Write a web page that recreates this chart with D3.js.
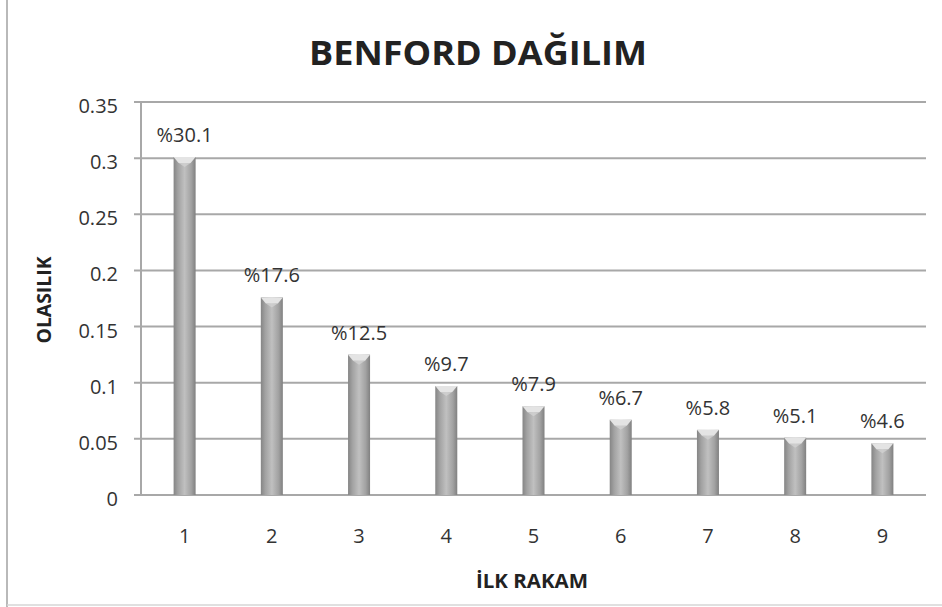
<!DOCTYPE html>
<html>
<head>
<meta charset="utf-8">
<script src="https://cdn.jsdelivr.net/npm/d3@7"></script>
<style>
html,body{margin:0;padding:0;background:#fff;}
svg{display:block;font-family:"Open Sans","Lato",sans-serif;}
</style>
</head>
<body>
<svg id="c" width="942" height="607"></svg>
<script>
const categories = ["1","2","3","4","5","6","7","8","9"];
const values = [0.301, 0.176, 0.125, 0.097, 0.079, 0.067, 0.058, 0.051, 0.046];
const valueLabels = ["%30.1","%17.6","%12.5","%9.7","%7.9","%6.7","%5.8","%5.1","%4.6"];
const yTicks = [0, 0.05, 0.1, 0.15, 0.2, 0.25, 0.3, 0.35];
const yTickLabels = ["0","0.05","0.1","0.15","0.2","0.25","0.3","0.35"];
const title = "BENFORD DAĞILIM";
const xTitle = "İLK RAKAM";
const yTitle = "OLASILIK";

const svg = d3.select("#c");
const pLeft = 141, pRight = 926, pTop = 102, pBottom = 495;

const defs = svg.append("defs");
const g1 = defs.append("linearGradient").attr("id","barg").attr("x1","0").attr("x2","1").attr("y1","0").attr("y2","0");
g1.append("stop").attr("offset","0").attr("stop-color","#858585");
g1.append("stop").attr("offset","0.2").attr("stop-color","#a2a2a2");
g1.append("stop").attr("offset","0.5").attr("stop-color","#c0c0c0");
g1.append("stop").attr("offset","0.8").attr("stop-color","#a2a2a2");
g1.append("stop").attr("offset","1").attr("stop-color","#808080");

// borders
svg.append("line").attr("x1",7).attr("x2",7).attr("y1",0).attr("y2",607).attr("stroke","#b9b9b9").attr("stroke-width",2);
svg.append("line").attr("x1",7).attr("x2",942).attr("y1",605).attr("y2",605).attr("stroke","#d6d6d6").attr("stroke-width",1.5);

const x = d3.scaleBand().domain(categories).range([pLeft, pRight]);
const y = d3.scaleLinear().domain([0, 0.35]).range([pBottom, pTop]);

// gridlines
svg.append("g").selectAll("line").data(yTicks).join("line")
  .attr("x1", pLeft - 7).attr("x2", pRight)
  .attr("y1", d => y(d)).attr("y2", d => y(d))
  .attr("stroke", "#a8a8a8").attr("stroke-width", 2);

// y axis line
svg.append("line").attr("x1",pLeft).attr("x2",pLeft).attr("y1",pTop).attr("y2",pBottom)
  .attr("stroke","#a8a8a8").attr("stroke-width",2);

// y tick labels
svg.append("g").selectAll("text").data(yTicks).join("text")
  .attr("x", 118).attr("y", d => y(d)).attr("dy","0.55em")
  .attr("text-anchor","end").attr("font-size",20).attr("fill","#333")
  .text((d,i) => yTickLabels[i]);

// x tick labels
svg.append("g").selectAll("text").data(categories).join("text")
  .attr("x", d => x(d) + x.bandwidth()/2).attr("y", 543)
  .attr("text-anchor","middle").attr("font-size",20).attr("fill","#333")
  .text(d => d);

const bw = 22;
const bars = svg.append("g").selectAll("g").data(values).join("g")
  .attr("transform", (d,i) => `translate(${x(categories[i]) + x.bandwidth()/2 - bw/2},0)`);
bars.append("rect")
  .attr("x",0).attr("width",bw)
  .attr("y", d => y(d)).attr("height", d => pBottom - y(d))
  .attr("fill","url(#barg)");
// top bevel
bars.append("path")
  .attr("d", d => { const t = y(d); return `M0,${t} L${bw},${t} L${bw-5},${t+6} L5,${t+6} Z`; })
  .attr("fill","#e4e4e4");
bars.append("path")
  .attr("d", d => { const t = y(d); return `M5,${t+6} L${bw-5},${t+6} L${bw/2},${t+10} Z`; })
  .attr("fill","#d4d4d4").attr("opacity",0.7);

// value labels
svg.append("g").selectAll("text").data(values).join("text")
  .attr("x", (d,i) => x(categories[i]) + x.bandwidth()/2)
  .attr("y", d => y(d) - 15)
  .attr("text-anchor","middle").attr("font-size",20).attr("fill","#333")
  .text((d,i) => valueLabels[i]);

// titles
svg.append("text").attr("x",478).attr("y",65).attr("text-anchor","middle")
  .attr("font-size",34).attr("font-weight","bold").attr("fill","#222")
  .attr("textLength",338).attr("lengthAdjust","spacingAndGlyphs").text(title);
svg.append("text").attr("x",532).attr("y",588).attr("text-anchor","middle")
  .attr("font-size",19).attr("font-weight","bold").attr("fill","#222")
  .attr("textLength",112).attr("lengthAdjust","spacingAndGlyphs").text(xTitle);
svg.append("text").attr("transform","translate(51,300) rotate(-90)").attr("text-anchor","middle")
  .attr("font-size",19).attr("font-weight","bold").attr("fill","#222")
  .attr("textLength",87).attr("lengthAdjust","spacingAndGlyphs").text(yTitle);
</script>
</body>
</html>
